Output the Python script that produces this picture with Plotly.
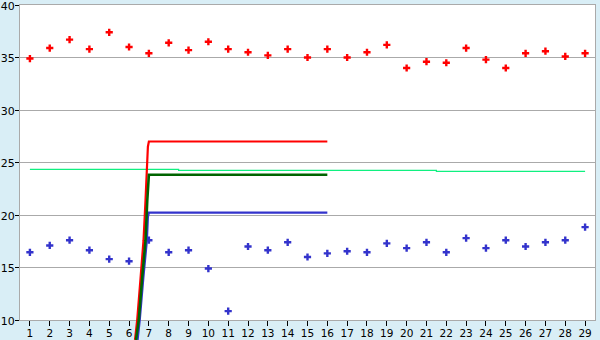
import plotly.graph_objects as go

# ---- data ----
categories = [1, 2, 3, 4, 5, 6, 7, 8, 9, 10, 11, 12, 13, 14, 15, 16, 17, 18, 19, 20,
              21, 22, 23, 24, 25, 26, 27, 28, 29]
tick_labels = [str(c) for c in categories]

red_points = [34.9, 35.9, 36.7, 35.8, 37.4, 36.0, 35.4, 36.4, 35.7, 36.5, 35.8, 35.5, 35.2,
              35.8, 35.0, 35.8, 35.0, 35.5, 36.2, 34.0, 34.6, 34.5, 35.9, 34.8, 34.0, 35.4,
              35.6, 35.1, 35.4]
blue_points = [16.45, 17.1, 17.6, 16.65, 15.8, 15.6, 17.6, 16.45, 16.65, 14.9, 10.85, 17.0,
               16.65, 17.4, 16.0, 16.35, 16.55, 16.45, 17.3, 16.85, 17.4, 16.45, 17.8, 16.85,
               17.6, 17.0, 17.4, 17.6, 18.85]

mean_line = [24.35, 24.35, 24.35, 24.35, 24.35, 24.35, 24.35, 24.35,
             24.25, 24.25, 24.25, 24.25, 24.25, 24.25, 24.25, 24.25, 24.25, 24.25, 24.25,
             24.25, 24.25,
             24.16, 24.16, 24.16, 24.16, 24.16, 24.16, 24.16, 24.16]

red_curve_x = [6.30, 6.41, 6.58, 6.73, 6.83, 6.88, 6.95, 7.0, 16]
red_curve_y = [8.1, 10.0, 14.0, 17.6, 21.4, 24.3, 26.5, 27.0, 27.0]
green_curve_x = [6.35, 6.49, 6.66, 6.83, 6.92, 6.97, 7.0, 16]
green_curve_y = [8.1, 10.0, 14.0, 17.6, 21.4, 23.3, 23.84, 23.84]
blue_curve_x = [6.43, 6.54, 6.72, 6.9, 6.95, 7.0, 16]
blue_curve_y = [8.1, 10.0, 14.0, 17.6, 19.8, 20.22, 20.22]

y_ticks = [10, 15, 20, 25, 30, 35, 40]

# ---- figure ----
W, H = 600, 340
ML, MR, MT, MB = 20, 5, 5, 0
plot_h = H - MT - MB
main_bottom_px = 20
main_dom0 = main_bottom_px / plot_h
px_per_unit = (plot_h - main_bottom_px) / 30.0
y2_low = 40 - plot_h / px_per_unit

bg = "#D9EEF6"
grid = "#AAAAAA"

fig = go.Figure()

# markers on the main axes
fig.add_trace(go.Scatter(x=categories, y=red_points, mode="markers",
                         marker=dict(symbol="cross", size=6, color="#FF0000", line=dict(width=0)),
                         xaxis="x", yaxis="y", showlegend=False))
fig.add_trace(go.Scatter(x=categories, y=blue_points, mode="markers",
                         marker=dict(symbol="cross", size=6, color="#3333CC", line=dict(width=0)),
                         xaxis="x", yaxis="y", showlegend=False))

# lines on an overlay axis pair that extends below the plot area (same scale)
fig.add_trace(go.Scatter(x=categories, y=mean_line, mode="lines", line=dict(color="#10F080", width=1.2, shape="hvh"),
                         xaxis="x2", yaxis="y2", showlegend=False, hoverinfo="skip"))
fig.add_trace(go.Scatter(x=red_curve_x, y=red_curve_y, mode="lines", line=dict(color="#FF0000", width=2.2),
                         xaxis="x2", yaxis="y2", showlegend=False))
fig.add_trace(go.Scatter(x=blue_curve_x, y=blue_curve_y, mode="lines", line=dict(color="#3333CC", width=2.2),
                         xaxis="x2", yaxis="y2", showlegend=False))
fig.add_trace(go.Scatter(x=green_curve_x, y=green_curve_y, mode="lines", line=dict(color="#006400", width=2.6),
                         xaxis="x2", yaxis="y2", showlegend=False))

fig.update_layout(
    width=W, height=H,
    margin=dict(l=ML, r=MR, t=MT, b=MB, pad=0, autoexpand=False),
    paper_bgcolor=bg, plot_bgcolor="rgba(0,0,0,0)",
    font=dict(family="DejaVu Sans", size=10.5, color="#000000"),
    xaxis=dict(range=[0.5, 29.5], domain=[0, 1], anchor="y", automargin=False,
               tickmode="array", tickvals=categories, ticktext=tick_labels,
               ticks="outside", ticklen=5, tickcolor="#000000", tickwidth=1,
               showline=True, linecolor=grid, linewidth=1, mirror=True,
               showgrid=False, zeroline=False, tickfont=dict(size=10.5),
               ticklabeloverflow="allow", ticklabelstandoff=-2),
    yaxis=dict(range=[10, 40], domain=[main_dom0, 1], anchor="x", automargin=False,
               tickmode="array", tickvals=y_ticks,
               ticks="outside", ticklen=4, tickcolor="#000000", tickwidth=1,
               showline=True, linecolor=grid, linewidth=1, mirror=True,
               showgrid=True, gridcolor=grid, gridwidth=1, zeroline=False,
               tickfont=dict(size=11), ticklabeloverflow="allow",
               ticklabelshift=1, ticklabelstandoff=-2),
    xaxis2=dict(range=[0.5, 29.5], domain=[0, 1], anchor="y2", visible=False),
    yaxis2=dict(range=[y2_low, 40], domain=[0, 1], anchor="x2", visible=False),
    shapes=[dict(type="rect", xref="paper", yref="paper", x0=0, x1=1, y0=main_dom0, y1=1,
                 fillcolor="#FFFFFF", line=dict(width=0), layer="below")],
)

fig.write_html("out.html")
